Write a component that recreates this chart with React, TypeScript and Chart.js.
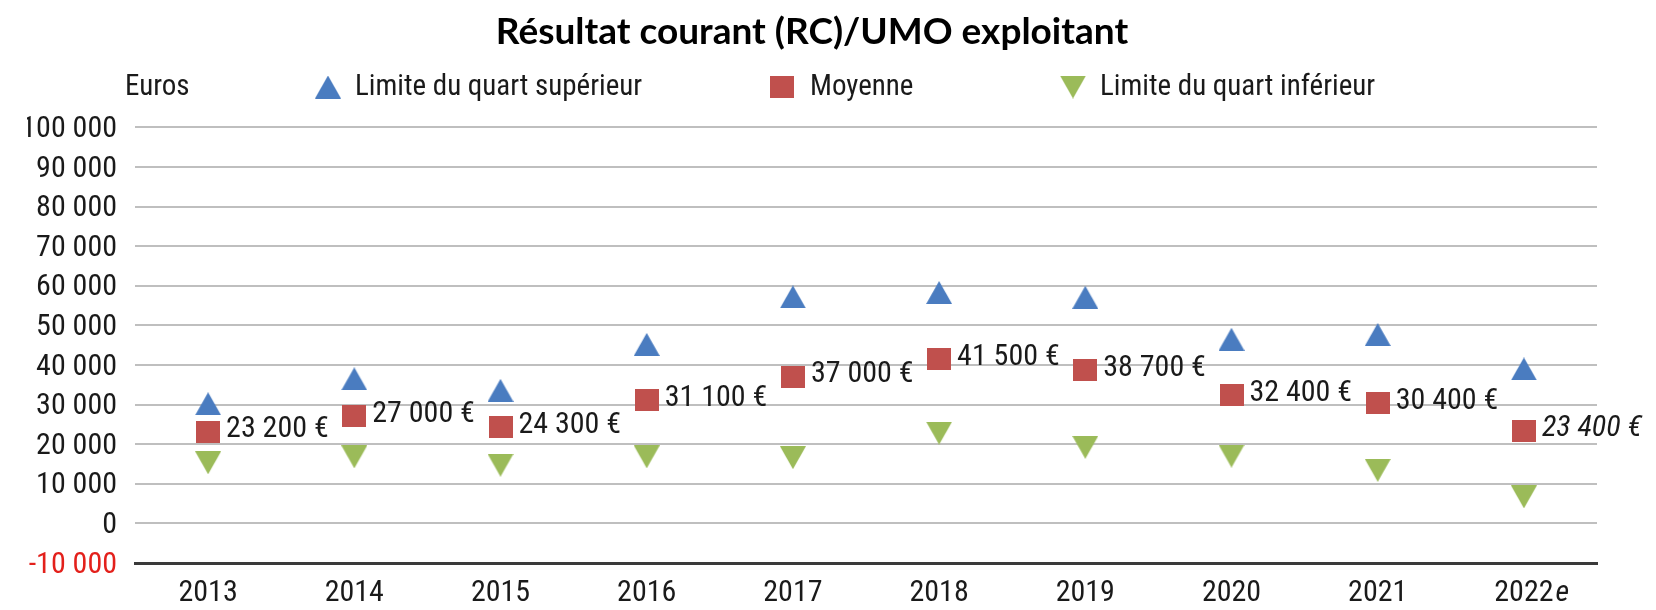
import React, { useEffect, useRef } from 'react';
import { Chart, registerables } from 'chart.js';

Chart.register(...registerables);

// ---------- data ----------
const chartTitle = 'Résultat courant (RC)/UMO exploitant';
const unitLabel = 'Euros';
const years = ['2013', '2014', '2015', '2016', '2017', '2018', '2019', '2020', '2021', '2022e'];
const seriesNames = ['Limite du quart supérieur', 'Moyenne', 'Limite du quart inférieur'];
const upperQuartile = [30200, 36500, 33600, 45200, 57200, 58300, 57100, 46500, 47700, 39000];
const meanValues = [23200, 27000, 24300, 31100, 37000, 41500, 38700, 32400, 30400, 23400];
const lowerQuartile = [15300, 16800, 14700, 16800, 16600, 22800, 19200, 17000, 13400, 6700];
const yMin = -10000;
const yMax = 100000;
const yStep = 10000;

// ---------- styles ----------
const BLUE = '#4a7cc0';
const RED = '#c0504d';
const GREEN = '#9bbb59';
const TEXT = '#1a1a1a';
const NEG = '#e3201b';

const fmt = (v: number) => {
  const s = Math.abs(v).toString().replace(/\B(?=(\d{3})+(?!\d))/g, ' ');
  return v < 0 ? '-' + s : s;
};

function pickNarrowFont() {
  const c = document.createElement('canvas').getContext('2d')!;
  const probe = '0123456789';
  const cands: [string, string][] = [
    ['400', '"Liberation Sans Narrow"'],
    ['400', '"Arial Narrow"'],
    ['400', '"Roboto Condensed"'],
    ['400', '"Noto Sans Condensed"'],
    ['400', '"Open Sans Condensed"'],
    ['400 condensed', '"Noto Sans"'],
    ['400 condensed', '"Open Sans"'],
    ['400 condensed', 'Roboto'],
    ['400', '"DejaVu Sans Condensed"'],
  ];
  for (const [w, f] of cands) {
    c.font = `${w} 100px ${f}, monospace`;
    const per = c.measureText(probe).width / 1000;
    if (per < 0.52) return { weight: w, family: f, per };
  }
  return { weight: '400', family: '"Liberation Sans"', per: 0.556 };
}

function makeMarker(kind: 'up' | 'down' | 'square', color: string): HTMLCanvasElement {
  const c = document.createElement('canvas');
  if (kind === 'square') {
    c.width = 24;
    c.height = 22;
    const g = c.getContext('2d')!;
    g.fillStyle = color;
    g.fillRect(0, 0, 24, 22);
  } else {
    c.width = 26;
    c.height = 23;
    const g = c.getContext('2d')!;
    g.fillStyle = color;
    g.beginPath();
    if (kind === 'up') {
      g.moveTo(13, 0);
      g.lineTo(26, 23);
      g.lineTo(0, 23);
    } else {
      g.moveTo(0, 0);
      g.lineTo(26, 0);
      g.lineTo(13, 23);
    }
    g.closePath();
    g.fill();
  }
  return c;
}

export default function App() {
  const ref = useRef<HTMLCanvasElement | null>(null);

  useEffect(() => {
    if (!ref.current) return;
    const nf = pickNarrowFont();
    const FS = Math.max(24, Math.min(35, Math.round(14.8 / nf.per)));
    const FL = Math.round(FS * 0.97);
    const fontStr = (size: number, italic = false) =>
      `${italic ? 'italic ' : ''}${nf.weight} ${size}px ${nf.family}`;

    const markers = [makeMarker('up', BLUE), makeMarker('square', RED), makeMarker('down', GREEN)];
    const colors = [BLUE, RED, GREEN];

    const decor = {
      id: 'decor',
      afterDatasetsDraw(chart: any) {
        const ctx = chart.ctx;
        ctx.save();
        ctx.fillStyle = TEXT;
        ctx.textAlign = 'left';
        ctx.textBaseline = 'middle';
        chart.getDatasetMeta(1).data.forEach((pt: any, i: number) => {
          const est = years[i].endsWith('e');
          ctx.font = fontStr(FS, est);
          ctx.fillText(`${fmt(meanValues[i])} €`, pt.x + 18, pt.y - 2);
        });
        ctx.restore();
      },
      afterDraw(chart: any) {
        const ctx = chart.ctx;
        ctx.save();
        ctx.fillStyle = TEXT;
        ctx.textBaseline = 'middle';
        ctx.textAlign = 'left';
        // unit label + legend
        ctx.font = fontStr(FL);
        ctx.fillText(unitLabel, 125, 88);
        const legendMarkerX = [328, 782, 1073];
        const legendTextX = [355, 810, 1100];
        seriesNames.forEach((name, i) => {
          const m = markers[i];
          ctx.drawImage(m, legendMarkerX[i] - m.width / 2, 87 - m.height / 2);
          ctx.fillText(name, legendTextX[i], 88);
        });
        // italic suffix for estimated year
        const xs = chart.scales.x;
        years.forEach((y, i) => {
          if (y.endsWith('e')) {
            const base = y.slice(0, -1);
            ctx.font = fontStr(FS);
            const w = ctx.measureText(base).width;
            ctx.font = fontStr(FS, true);
            ctx.fillText('e', xs.getPixelForValue(i) + w / 2 + 2, xs.top + 15 + FS / 2);
          }
        });
        ctx.restore();
      },
    };

    const chart = new Chart(ref.current, {
      type: 'line',
      data: {
        labels: years,
        datasets: [upperQuartile, meanValues, lowerQuartile].map((d, i) => ({
          label: seriesNames[i],
          data: d,
          showLine: false,
          pointStyle: markers[i] as any,
          pointRadius: 13,
          pointHoverRadius: 13,
          backgroundColor: colors[i],
          borderColor: colors[i],
        })),
      },
      options: {
        animation: false,
        responsive: true,
        maintainAspectRatio: false,
        layout: { padding: { left: 27, right: 59, top: 0, bottom: 0 } },
        plugins: {
          legend: { display: false },
          tooltip: { enabled: false },
          title: {
            display: true,
            text: chartTitle,
            color: '#000',
            font: { family: 'Lato, "Open Sans", sans-serif', weight: 'bold', size: 37, lineHeight: 1.2 },
            padding: { top: 10, bottom: 73 },
          },
        },
        scales: {
          x: {
            type: 'category',
            offset: true,
            grid: { display: false, drawTicks: false },
            border: { display: true, color: '#3a3a3a', width: 3 },
            ticks: {
              color: TEXT,
              padding: 15,
              font: { family: nf.family, weight: nf.weight, size: FS, lineHeight: 1 },
              maxRotation: 0,
              autoSkip: false,
              callback: (_v: any, i: number) => years[i].replace(/e$/, ''),
            },
            afterFit: (s: any) => {
              s.height = 47;
            },
          },
          y: {
            min: yMin,
            max: yMax,
            grid: {
              drawTicks: false,
              lineWidth: 2,
              color: (c: any) => (c.tick && c.tick.value === yMin ? 'rgba(0,0,0,0)' : '#bfbfbf'),
            },
            border: { display: false },
            ticks: {
              stepSize: yStep,
              autoSkip: false,
              padding: 18,
              labelOffset: 2,
              font: { family: nf.family, weight: nf.weight, size: FS, lineHeight: 1 },
              color: (c: any) => (c.tick && c.tick.value < 0 ? NEG : TEXT),
              callback: (v: any) => fmt(Number(v)),
            },
            afterFit: (s: any) => {
              s.width = 108;
            },
          },
        },
      },
      plugins: [decor],
    } as any);
    return () => chart.destroy();
  }, []);

  return (
    <div style={{ position: 'fixed', left: 0, top: 0, width: 1656, height: 610, background: '#fff' }}>
      <canvas ref={ref} />
    </div>
  );
}
